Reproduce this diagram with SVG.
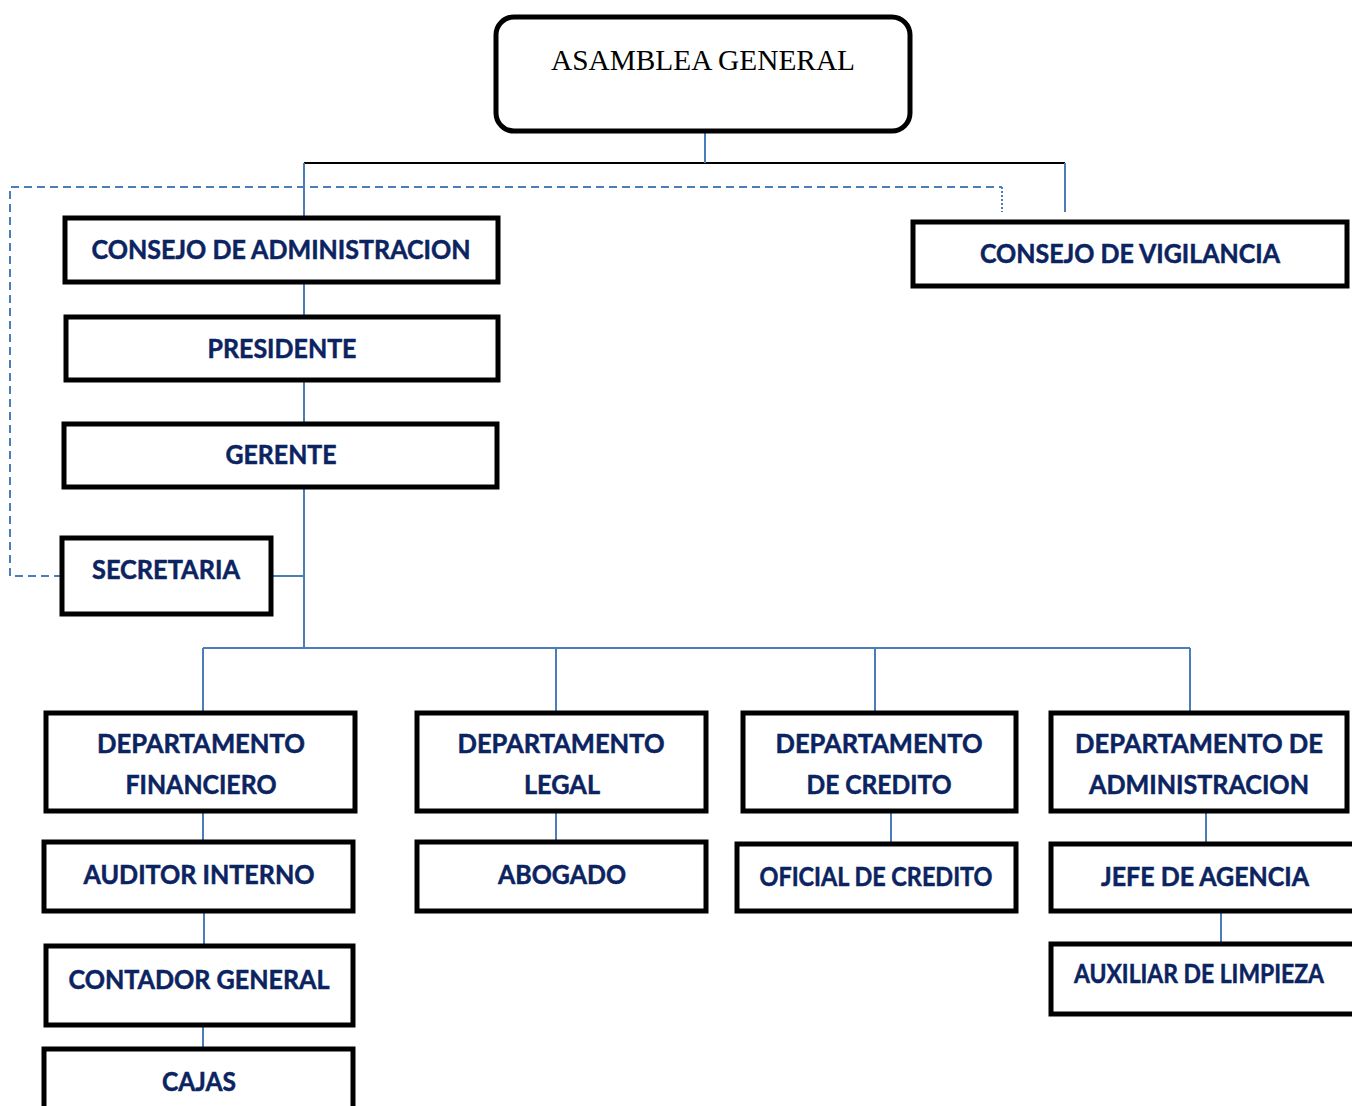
<svg xmlns="http://www.w3.org/2000/svg" width="1352" height="1106" viewBox="0 0 1352 1106">
<style>
.box{fill:#fff;stroke:#000;stroke-width:5}
.t{font-family:Lato,"Open Sans","Liberation Sans",sans-serif;font-weight:bold;font-size:26px;fill:#0b2461;stroke:#0b2461;stroke-width:0.5;text-anchor:middle}
.c{fill:none;stroke:#4a7ebb;stroke-width:2}
.k{fill:none;stroke:#000;stroke-width:2}
.d{fill:none;stroke:#4a7ebb;stroke-width:2;stroke-dasharray:8 5}
.dot{fill:none;stroke:#4a7ebb;stroke-width:2;stroke-dasharray:2 2}
</style>
<rect width="1352" height="1106" fill="#fff"/>
<g id="connectors">
<path class="k" d="M304 163H1065"/>
<path class="c" d="M705 131V163M304 163V218M1065 163V212"/>
<path class="d" d="M62 576H10V187H1002"/>
<path class="dot" d="M1002 187V212"/>
<path class="c" d="M304 282V317M304 380V424M304 487V648M271 576H304"/>
<path class="c" d="M203 648H1190M203 648V713M556 648V713M875 648V713M1190 648V713"/>
<path class="c" d="M203 811V842M204 911V946M203 1025V1049"/>
<path class="c" d="M556 811V842M891 811V844M1206 811V844M1221 911V944"/>
</g>
<g id="asamblea"><rect x="496" y="17" width="414" height="114" rx="18" class="box"/>
<text x="703" y="70" font-family="'Liberation Serif','Times New Roman',serif" font-size="29" text-anchor="middle" fill="#000" textLength="304" lengthAdjust="spacingAndGlyphs">ASAMBLEA GENERAL</text></g>
<g id="consejo-admin"><rect x="65" y="218" width="433" height="64" class="box"/><text class="t" x="281" y="259" textLength="379" lengthAdjust="spacingAndGlyphs">CONSEJO DE ADMINISTRACION</text></g>
<g id="consejo-vigilancia"><rect x="913" y="222" width="434" height="64" class="box"/><text class="t" x="1130" y="263" textLength="300" lengthAdjust="spacingAndGlyphs">CONSEJO DE VIGILANCIA</text></g>
<g id="presidente"><rect x="66" y="317" width="432" height="63" class="box"/><text class="t" x="282" y="358" textLength="149" lengthAdjust="spacingAndGlyphs">PRESIDENTE</text></g>
<g id="gerente"><rect x="64" y="424" width="433" height="63" class="box"/><text class="t" x="281" y="464" textLength="111" lengthAdjust="spacingAndGlyphs">GERENTE</text></g>
<g id="secretaria"><rect x="62" y="538" width="209" height="76" class="box"/><text class="t" x="166" y="579" textLength="148" lengthAdjust="spacingAndGlyphs">SECRETARIA</text></g>
<g id="dep-financiero"><rect x="46" y="713" width="309" height="98" class="box"/><text class="t" x="201" y="753" textLength="208" lengthAdjust="spacingAndGlyphs">DEPARTAMENTO</text><text class="t" x="201" y="794" textLength="151" lengthAdjust="spacingAndGlyphs">FINANCIERO</text></g>
<g id="dep-legal"><rect x="417" y="713" width="289" height="98" class="box"/><text class="t" x="561" y="753" textLength="207" lengthAdjust="spacingAndGlyphs">DEPARTAMENTO</text><text class="t" x="562" y="794" textLength="76" lengthAdjust="spacingAndGlyphs">LEGAL</text></g>
<g id="dep-credito"><rect x="743" y="713" width="273" height="98" class="box"/><text class="t" x="879" y="753" textLength="207" lengthAdjust="spacingAndGlyphs">DEPARTAMENTO</text><text class="t" x="879" y="794" textLength="145" lengthAdjust="spacingAndGlyphs">DE CREDITO</text></g>
<g id="dep-admin"><rect x="1051" y="713" width="296" height="98" class="box"/><text class="t" x="1199" y="753" textLength="248" lengthAdjust="spacingAndGlyphs">DEPARTAMENTO DE</text><text class="t" x="1199" y="794" textLength="220" lengthAdjust="spacingAndGlyphs">ADMINISTRACION</text></g>
<g id="auditor"><rect x="44" y="842" width="309" height="69" class="box"/><text class="t" x="199" y="884" textLength="231" lengthAdjust="spacingAndGlyphs">AUDITOR INTERNO</text></g>
<g id="abogado"><rect x="417" y="842" width="289" height="69" class="box"/><text class="t" x="562" y="884" textLength="128" lengthAdjust="spacingAndGlyphs">ABOGADO</text></g>
<g id="oficial"><rect x="737" y="844" width="279" height="67" class="box"/><text class="t" x="876" y="886" textLength="233" lengthAdjust="spacingAndGlyphs">OFICIAL DE CREDITO</text></g>
<g id="jefe"><rect x="1051" y="844" width="320" height="67" class="box"/><text class="t" x="1205" y="886" textLength="208" lengthAdjust="spacingAndGlyphs">JEFE DE AGENCIA</text></g>
<g id="auxiliar"><rect x="1051" y="944" width="320" height="70" class="box"/><text class="t" x="1199" y="983" font-size="24" textLength="250" lengthAdjust="spacingAndGlyphs">AUXILIAR DE LIMPIEZA</text></g>
<g id="contador"><rect x="46" y="946" width="307" height="79" class="box"/><text class="t" x="199" y="989" textLength="261" lengthAdjust="spacingAndGlyphs">CONTADOR GENERAL</text></g>
<g id="cajas"><rect x="44" y="1049" width="309" height="80" class="box"/><text class="t" x="199" y="1091" textLength="74" lengthAdjust="spacingAndGlyphs">CAJAS</text></g>
</svg>
